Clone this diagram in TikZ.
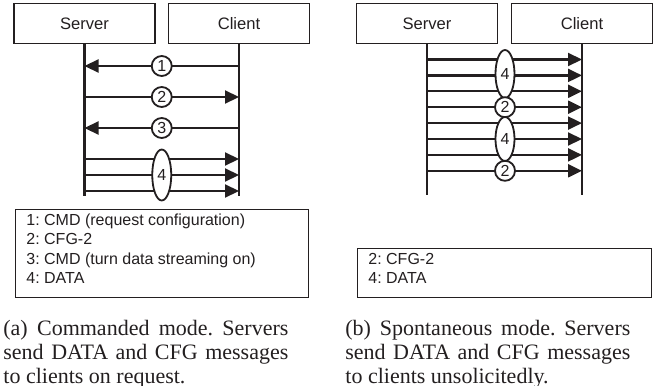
\documentclass[tikz,border=0pt]{standalone}
\usepackage{fontspec}
\setmainfont{Liberation Serif}
\setsansfont{Liberation Sans}
\usetikzlibrary{arrows.meta,shapes.geometric}
\definecolor{ink}{HTML}{231F20}
\frenchspacing

\begin{document}
\begin{tikzpicture}[x=0.5pt,y=-0.5pt,
    actor/.style={draw=ink,line width=0.8pt,minimum width=70.5pt,minimum height=20pt,inner sep=0pt,font=\sffamily\fontsize{8.3}{9.5}\selectfont,text=ink},
    life/.style={draw=ink,line width=1.1pt},
    msg/.style={draw=ink,line width=1.1pt,-{Triangle[length=7pt,width=6.5pt]}},
    tag/.style={circle,draw=ink,fill=white,line width=0.9pt,minimum size=10pt,inner sep=0pt,font=\sffamily\fontsize{8}{9.5}\selectfont,text=ink},
    burst/.style={ellipse,draw=ink,fill=white,line width=0.9pt,minimum width=9.5pt,inner sep=0pt,font=\sffamily\fontsize{8}{9.5}\selectfont,text=ink},
    keybox/.style={draw=ink,line width=0.6pt,inner sep=0pt,anchor=north west},
    keytext/.style={anchor=base west,inner sep=0pt,font=\sffamily\fontsize{8}{9.5}\selectfont,text=ink},
    caption/.style={anchor=north west,inner sep=0pt,text width=142.5pt,align=justify,font=\fontsize{11}{12}\selectfont,text=ink}]
    \useasboundingbox (0,0) rectangle (666,386);

    \node[actor] (srvA) at (84.5,23.5) {Server};
    \node[actor] (cliA) at (239,23.5) {Client};
    \node[actor] (srvB) at (427,23.5) {Server};
    \node[actor] (cliB) at (582,23.5) {Client};

    \coordinate (srvAend) at (84.5,196);
    \coordinate (cliAend) at (239,196);
    \coordinate (srvBend) at (427,195);
    \coordinate (cliBend) at (582,195);
    \draw[life] (srvA) -- (srvAend);
    \draw[life] (cliA) -- (cliAend);
    \draw[life] (srvB) -- (srvBend);
    \draw[life] (cliB) -- (cliBend);

    \draw[msg] (cliA.south |- 0,66) -- (srvA.south |- 0,66);
    \draw[msg] (srvA.south |- 0,97) -- (cliA.south |- 0,97);
    \draw[msg] (cliA.south |- 0,128) -- (srvA.south |- 0,128);
    \draw[msg] (srvA.south |- 0,159) -- (cliA.south |- 0,159);
    \draw[msg] (srvA.south |- 0,175) -- (cliA.south |- 0,175);
    \draw[msg] (srvA.south |- 0,191) -- (cliA.south |- 0,191);

    \node[tag] (msgA1) at (161.75,66) {1};
    \node[tag] (msgA2) at (161.75,97) {2};
    \node[tag] (msgA3) at (161.75,128) {3};
    \node[burst,minimum height=25.5pt] (msgA4) at (161.75,175) {4};

    \foreach \y in {59.5,75.4,91.3,107.2,123.1,139,154.9,170.8}
        \draw[msg] (srvB.south |- 0,\y) -- (cliB.south |- 0,\y);

    \node[burst,minimum height=24pt] (msgB4a) at (505,74) {4};
    \node[tag] (msgB2a) at (505,107.2) {2};
    \node[burst,minimum height=22pt] (msgB4b) at (505,139) {4};
    \node[tag] (msgB2b) at (505,170.8) {2};

    \node[keybox,minimum width=146.5pt,minimum height=44pt] (keyA) at (15,209) {};
    \node[keytext] (keyA1) at (26,225) {1: CMD (request configuration)};
    \node[keytext] (keyA2) at (26,244.5) {2: CFG-2};
    \node[keytext] (keyA3) at (26,264) {3: CMD (turn data streaming on)};
    \node[keytext] (keyA4) at (26,283) {4: DATA};

    \node[keybox,minimum width=147pt,minimum height=24.5pt] (keyB) at (357,248) {};
    \node[keytext] (keyB2) at (368,264) {2: CFG-2};
    \node[keytext] (keyB4) at (368,283) {4: DATA};

    \node[caption] (capA) at (3,320) {(a) Commanded mode. Servers\linebreak send DATA and CFG messages\linebreak to clients on request.};
    \node[caption] (capB) at (345,320) {(b) Spontaneous mode. Servers\linebreak send DATA and CFG messages\linebreak to clients unsolicitedly.};
\end{tikzpicture}
\end{document}
